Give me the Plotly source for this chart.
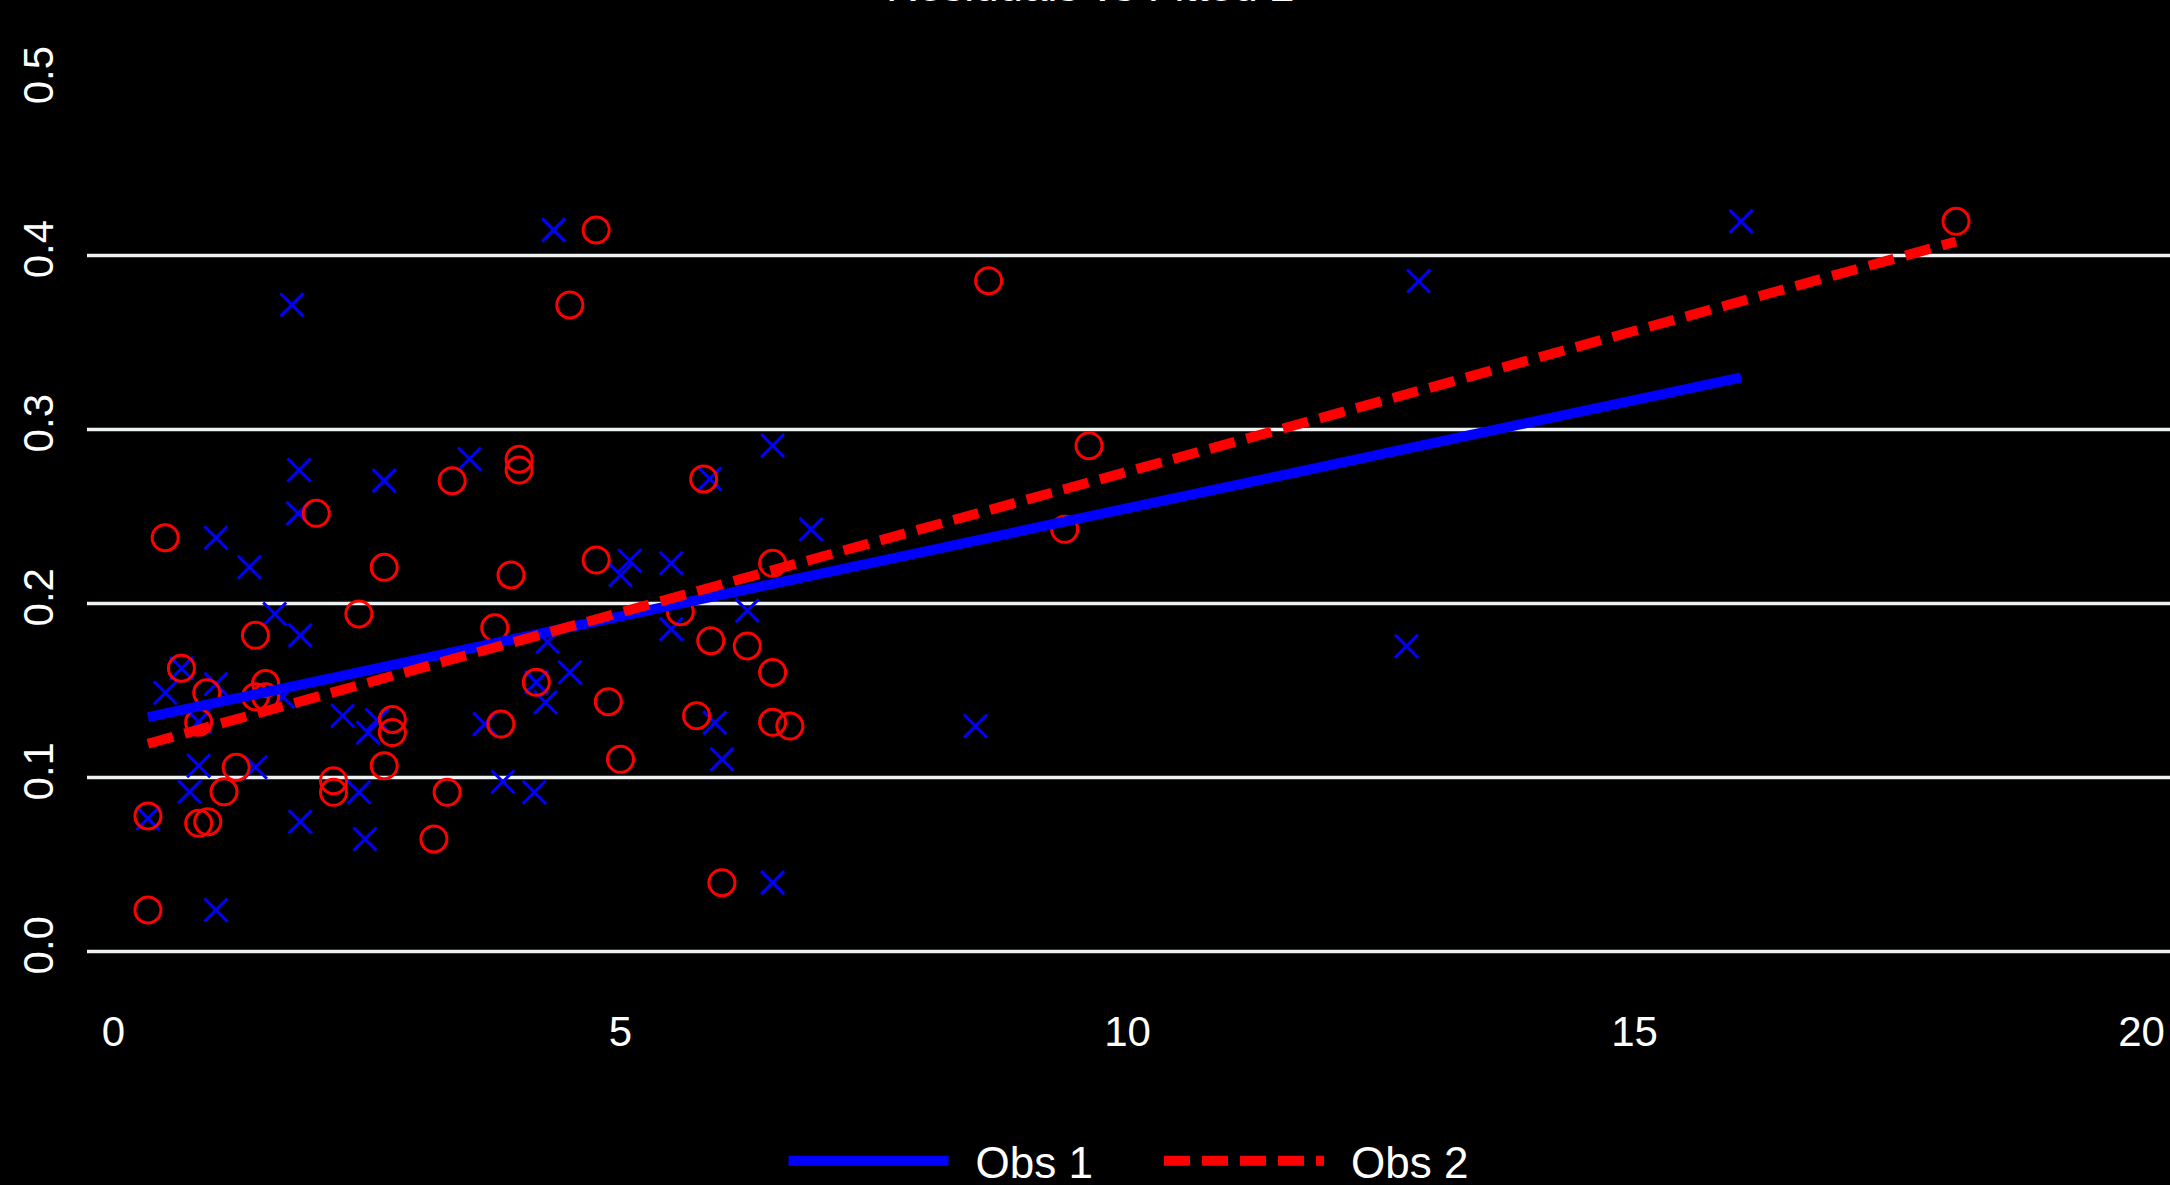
import plotly.graph_objects as go

# ---- data ----
obs1_x = [1.76, 1.83, 2.67, 3.51, 1.82, 1.01, 1.34, 1.59, 1.84, 0.67, 0.51, 1.01, 1.67, 0.84,
          2.26, 2.51, 2.60, 3.66, 0.84, 1.40, 0.75, 2.42, 0.34, 1.84, 2.48, 1.01, 4.34, 5.88,
          6.50, 6.88, 5.09, 5.00, 5.50, 6.25, 4.28, 5.50, 4.50, 4.17, 4.26, 5.93, 6.00, 3.84,
          4.15, 6.50, 8.50, 12.87, 12.75, 16.05]
obs1_y = [0.3716, 0.2767, 0.2706, 0.2830, 0.2518, 0.2378, 0.2208, 0.1940, 0.1817, 0.1628,
          0.1487, 0.1537, 0.1464, 0.1320, 0.1355, 0.1258, 0.1330, 0.1307, 0.1068, 0.1059,
          0.0918, 0.0915, 0.0765, 0.0746, 0.0647, 0.0239, 0.4147, 0.2716, 0.2907, 0.2426,
          0.2246, 0.2164, 0.2231, 0.1959, 0.1780, 0.1853, 0.1604, 0.1547, 0.1432, 0.1315,
          0.1105, 0.0976, 0.0915, 0.0396, 0.1296, 0.3853, 0.1754, 0.4196]

obs2_x = [3.34, 2.00, 0.51, 2.67, 2.42, 1.40, 3.76, 0.67, 0.92, 1.50, 1.40, 1.50, 0.84, 2.75,
          2.75, 3.82, 1.21, 2.67, 1.09, 2.17, 2.17, 3.29, 0.34, 0.84, 0.93, 3.16, 0.34, 4.76,
          4.50, 4.00, 4.00, 5.82, 3.92, 4.76, 6.50, 5.59, 5.89, 6.25, 6.50, 4.17, 4.88, 5.75,
          6.50, 6.67, 5.00, 6.00, 8.63, 9.62, 9.38, 18.17]
obs2_y = [0.2706, 0.2518, 0.2378, 0.2208, 0.1940, 0.1817, 0.1860, 0.1628, 0.1487, 0.1540,
          0.1464, 0.1464, 0.1317, 0.1334, 0.1258, 0.1307, 0.1059, 0.1068, 0.0918, 0.0982,
          0.0915, 0.0915, 0.0779, 0.0737, 0.0746, 0.0647, 0.0239, 0.4147, 0.3716, 0.2829,
          0.2767, 0.2716, 0.2164, 0.2250, 0.2231, 0.1953, 0.1786, 0.1756, 0.1604, 0.1547,
          0.1436, 0.1355, 0.1317, 0.1296, 0.1105, 0.0396, 0.3855, 0.2907, 0.2426, 0.4196]

fit1_x = [0.34, 16.05]
fit1_y = [0.1347, 0.3300]
fit2_x = [0.34, 18.17]
fit2_y = [0.1194, 0.4080]

grid_y = [0.0, 0.1, 0.2, 0.3, 0.4]
y_ticks = [0.0, 0.1, 0.2, 0.3, 0.4, 0.5]
y_tick_text = ["0.0", "0.1", "0.2", "0.3", "0.4", "0.5"]
x_ticks = [0, 5, 10, 15, 20]
x_tick_text = ["0", "5", "10", "15", "20"]

series_names = ["Obs 1", "Obs 2"]
title_text = "Residuals vs Fitted 2"

BLUE = "#0000FF"
RED = "#FF0000"
FONT = "Liberation Sans, Arial, sans-serif"
NB = "\u00a0"

fig = go.Figure()

fig.add_trace(go.Scatter(
    x=obs1_x, y=obs1_y, mode="markers", showlegend=False, hoverinfo="skip",
    marker=dict(symbol="x-thin-open", size=23, color=BLUE, line=dict(color=BLUE, width=3)),
))
fig.add_trace(go.Scatter(
    x=obs2_x, y=obs2_y, mode="markers", showlegend=False, hoverinfo="skip",
    marker=dict(symbol="circle-open", size=26, color=RED, line=dict(color=RED, width=3)),
))
fig.add_trace(go.Scatter(
    x=fit1_x, y=fit1_y, mode="lines",
    name="\u2002" + series_names[0] + NB * 5,
    line=dict(color=BLUE, width=10),
))
fig.add_trace(go.Scatter(
    x=fit2_x, y=fit2_y, mode="lines",
    name="\u2002" + series_names[1],
    line=dict(color=RED, width=10, dash="26px,12px"),
))

shapes = [
    dict(type="line", xref="paper", x0=0, x1=1, yref="y", y0=g, y1=g,
         line=dict(color="#EEF2F2", width=3.5), layer="below")
    for g in grid_y
]

fig.update_layout(
    width=2170, height=1185,
    paper_bgcolor="black", plot_bgcolor="black",
    margin=dict(l=87, r=0, t=0, b=195, autoexpand=False),
    font=dict(family=FONT, color="white", size=42),
    showlegend=True,
    legend=dict(
        orientation="h", x=0.5, xanchor="center", y=-0.173, yanchor="middle",
        font=dict(family=FONT, size=44, color="white"),
        bgcolor="rgba(0,0,0,0)", itemwidth=160,
    ),
    xaxis=dict(
        range=[-0.261, 20.28], showgrid=False, zeroline=False, showline=False,
        tickmode="array", tickvals=x_ticks, ticktext=x_tick_text,
        ticks="", ticklabelstandoff=13,
        tickfont=dict(family=FONT, size=42, color="white"),
    ),
    yaxis=dict(
        range=[-0.0221, 0.5468], showgrid=False, zeroline=False, showline=False,
        tickmode="array", tickvals=y_ticks, ticktext=y_tick_text,
        ticks="", tickangle=-90, ticklabelstandoff=25,
        tickfont=dict(family=FONT, size=42, color="white"),
    ),
    shapes=shapes,
    annotations=[dict(
        text=title_text, xref="paper", yref="paper", x=0.4815, y=0.9877,
        xanchor="center", yanchor="bottom", showarrow=False,
        font=dict(family=FONT, size=44, color="white"),
    )],
    hovermode=False,
)

fig.write_html(
    "out.html",
    config={"displayModeBar": False},
    post_script="document.body.style.margin='0px';document.body.style.background='black';"
                "document.documentElement.style.overflow='hidden';",
)
